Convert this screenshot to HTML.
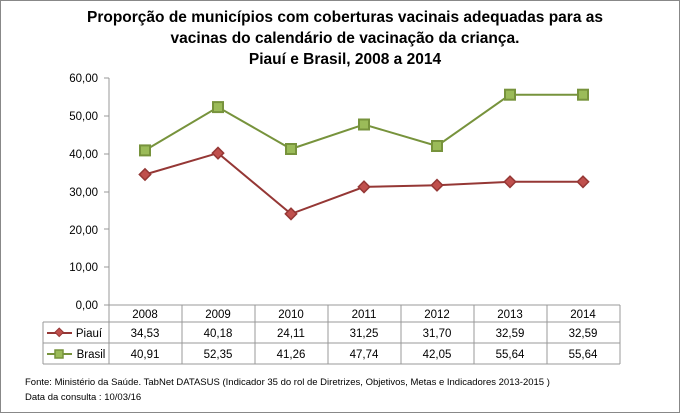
<!DOCTYPE html>
<html><head><meta charset="utf-8"><style>
body{margin:0;background:#fff}
svg{display:block;font-family:"Liberation Sans",sans-serif}
</style></head><body>
<svg width="680" height="413" viewBox="0 0 680 413" xmlns="http://www.w3.org/2000/svg">
<rect x="0.5" y="0.5" width="679" height="412" fill="#fff" stroke="#888"/>
<g font-weight="bold" font-size="15.5" text-anchor="middle" fill="#000">
<text x="345" y="22">Proporção de municípios com coberturas vacinais adequadas para as</text>
<text x="345" y="43">vacinas do calendário de vacinação da criança.</text>
<text x="345" y="64">Piauí e Brasil, 2008 a 2014</text>
</g>
<g font-size="11.5" text-anchor="end" fill="#000">
<text x="98" y="82">60,00</text><text x="98" y="120">50,00</text><text x="98" y="158">40,00</text>
<text x="98" y="196">30,00</text><text x="98" y="234">20,00</text><text x="98" y="271">10,00</text>
<text x="98" y="309">0,00</text>
</g>
<g stroke="#999" stroke-width="1">
<line x1="109" y1="78" x2="109" y2="305"/>
<line x1="104" y1="78" x2="109" y2="78"/><line x1="104" y1="116" x2="109" y2="116"/>
<line x1="104" y1="154" x2="109" y2="154"/><line x1="104" y1="192" x2="109" y2="192"/>
<line x1="104" y1="229" x2="109" y2="229"/><line x1="104" y1="267" x2="109" y2="267"/>
<line x1="104" y1="305" x2="620" y2="305"/>
<!-- table -->
<line x1="43" y1="322" x2="620" y2="322"/><line x1="43" y1="343" x2="620" y2="343"/>
<line x1="43" y1="364" x2="620" y2="364"/>
<line x1="43" y1="322" x2="43" y2="364"/>
<line x1="109" y1="305" x2="109" y2="364"/><line x1="182" y1="305" x2="182" y2="364"/>
<line x1="255" y1="305" x2="255" y2="364"/><line x1="328" y1="305" x2="328" y2="364"/>
<line x1="401" y1="305" x2="401" y2="364"/><line x1="474" y1="305" x2="474" y2="364"/>
<line x1="547" y1="305" x2="547" y2="364"/><line x1="620" y1="305" x2="620" y2="364"/>
</g>
<g font-size="11.5" text-anchor="middle" fill="#000">
<text x="145" y="318">2008</text><text x="218" y="318">2009</text><text x="291" y="318">2010</text><text x="364" y="318">2011</text><text x="437" y="318">2012</text><text x="510" y="318">2013</text><text x="583" y="318">2014</text>
<text x="145" y="337">34,53</text><text x="218" y="337">40,18</text><text x="291" y="337">24,11</text><text x="364" y="337">31,25</text><text x="437" y="337">31,70</text><text x="510" y="337">32,59</text><text x="583" y="337">32,59</text>
<text x="145" y="358">40,91</text><text x="218" y="358">52,35</text><text x="291" y="358">41,26</text><text x="364" y="358">47,74</text><text x="437" y="358">42,05</text><text x="510" y="358">55,64</text><text x="583" y="358">55,64</text>
<text x="89" y="337">Piauí</text><text x="91" y="358">Brasil</text>
</g>
<line x1="47" y1="333" x2="72" y2="333" stroke="#953735" stroke-width="2"/>
<rect x="55.5" y="329" width="6" height="6" fill="#c0504d" stroke="#953735" transform="rotate(45 58.5 333)"/>
<line x1="47" y1="354" x2="72" y2="354" stroke="#77933c" stroke-width="2"/>
<rect x="55" y="350" width="8" height="8" fill="#9bbb59" stroke="#77933c" stroke-width="1.5"/>
<polyline fill="none" stroke="#953735" stroke-width="2" points="145,174.5 218,153.1 291,213.9 364,186.9 437,185.2 510,181.8 583,181.8"/>
<polyline fill="none" stroke="#77933c" stroke-width="2" points="145,150.4 218,107.1 291,149.0 364,124.5 437,146.0 510,94.7 583,94.7"/>
<g fill="#c0504d" stroke="#953735" stroke-width="1.5">
<rect x="141" y="170.5" width="8" height="8" transform="rotate(45 145 174.5)"/>
<rect x="214" y="149.1" width="8" height="8" transform="rotate(45 218 153.1)"/>
<rect x="287" y="209.9" width="8" height="8" transform="rotate(45 291 213.9)"/>
<rect x="360" y="182.9" width="8" height="8" transform="rotate(45 364 186.9)"/>
<rect x="433" y="181.2" width="8" height="8" transform="rotate(45 437 185.2)"/>
<rect x="506" y="177.8" width="8" height="8" transform="rotate(45 510 181.8)"/>
<rect x="579" y="177.8" width="8" height="8" transform="rotate(45 583 181.8)"/>
</g>
<g fill="#9bbb59" stroke="#77933c" stroke-width="2">
<rect x="140" y="145.4" width="10" height="10"/><rect x="213" y="102.1" width="10" height="10"/>
<rect x="286" y="144" width="10" height="10"/><rect x="359" y="119.5" width="10" height="10"/>
<rect x="432" y="141" width="10" height="10"/><rect x="505" y="89.7" width="10" height="10"/>
<rect x="578" y="89.7" width="10" height="10"/>
</g>
<g font-size="9.5" fill="#000">
<text x="25" y="385">Fonte: Ministério da Saúde. TabNet DATASUS (Indicador 35 do rol de Diretrizes, Objetivos, Metas e Indicadores 2013-2015 )</text>
<text x="25" y="400">Data da consulta : 10/03/16</text>
</g>
</svg>
</body></html>
